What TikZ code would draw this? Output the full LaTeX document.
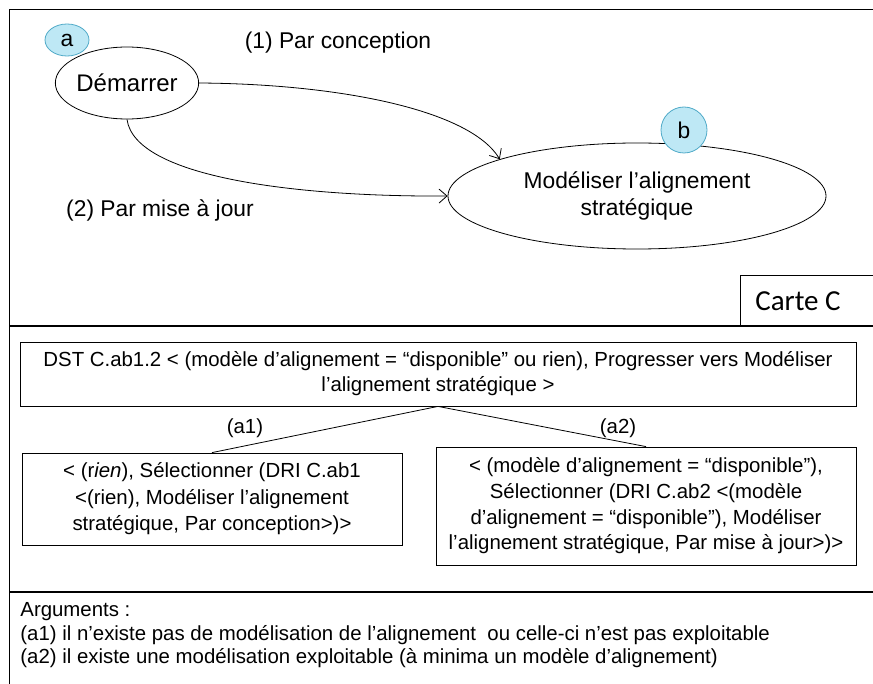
\documentclass[tikz,border=0pt]{standalone}
\usepackage{fontspec}
\setmainfont{Liberation Sans}
\newfontfamily\cartefont{Carlito}
\usetikzlibrary{arrows.meta,positioning,shapes.geometric}
\definecolor{bubblefill}{RGB}{190,232,245}
\definecolor{bubbledraw}{RGB}{80,170,200}

\begin{document}
\begin{tikzpicture}[%
    x=0.5pt, y=-0.5pt,
    intention/.style={ellipse,draw,inner sep=0pt,align=center,font=\fontsize{11.4}{13.6}\selectfont},
    bubble/.style={ellipse,draw=bubbledraw,fill=bubblefill,inner sep=0pt,font=\fontsize{11.4}{13.6}\selectfont},
    strat/.style={font=\fontsize{11.4}{13.6}\selectfont},
    boxtxt/.style={draw,rectangle,align=center,inner sep=0pt,font=\fontsize{10.2}{13}\selectfont},
    lbl/.style={font=\fontsize{10.2}{12}\selectfont},
    fleche/.style={-{Straight Barb[length=4pt,width=7pt]}}
]
\useasboundingbox (0,0) rectangle (873,684);

% ---------------- Frame and dividers ----------------
\draw (9,684) -- (9,9) -- (873,9);
\draw[line width=0.9pt] (9,326) -- (873,326);
\draw[line width=0.9pt] (9,592) -- (873,592);

% ---------------- Map (carte) ----------------
\node[intention,minimum width=71pt,minimum height=36pt,font=\fontsize{12}{14}\selectfont] (dem) at (127,83) {Démarrer};
\node[intention,minimum width=189pt,minimum height=53pt] (mod) at (637,196) {Modéliser l’alignement\\stratégique};
\node[bubble,minimum width=22pt,minimum height=16pt] (ba) at (67,40) {a};
\node[bubble,circle,minimum size=23pt] (bb) at (684,130) {b};

\node[strat] (s1) at (338,43) {(1) Par conception};
\node[strat] (s2) at (160,210) {(2) Par mise à jour};

\draw[fleche] (dem.east) .. controls (340,84) and (470,110) .. (mod.165);
\draw[fleche] (dem.south) .. controls (135,178) and (300,197) .. (mod.west);

\draw (740,326) -- (740,275) -- (873,275);
\node[font=\cartefont\fontsize{14.5}{17}\selectfont] (carte) at (798,301) {Carte C};

% ---------------- Decision tree ----------------
\node[boxtxt,minimum width=418pt,minimum height=32pt,font=\fontsize{10.2}{12.5}\selectfont] (dst) at (438,374)
    {DST C.ab1.2 < (modèle d’alignement = “disponible” ou rien), Progresser vers Modéliser\\l’alignement stratégique >};
\node[boxtxt,minimum width=190pt,minimum height=46pt,font=\fontsize{10.2}{13.2}\selectfont] (ab1) at (212,499)
    {< (r\textit{ien}), Sélectionner (DRI C.ab1\\<(rien), Modéliser l’alignement\\stratégique, Par conception>)>};
\node[boxtxt,minimum width=210pt,minimum height=59pt,font=\fontsize{10.2}{12.8}\selectfont] (ab2) at (646,506)
    {< (modèle d’alignement = “disponible”),\\Sélectionner (DRI C.ab2 <(modèle\\d’alignement = “disponible”), Modéliser\\l’alignement stratégique, Par mise à jour>)>};

\draw (dst.south) -- (ab1.north);
\draw (dst.south) -- (ab2.north);
\node[lbl] (l1) at (245,428) {(a1)};
\node[lbl] (l2) at (618,428) {(a2)};

% ---------------- Arguments ----------------
\node[anchor=north west,align=left,inner sep=0pt,font=\fontsize{10.2}{11.8}\selectfont] (args) at (20,602)
    {Arguments :\\
     (a1) il n’existe pas de modélisation de l’alignement\ \ ou celle-ci n’est pas exploitable\\
     (a2) il existe une modélisation exploitable (à minima un modèle d’alignement)};

\end{tikzpicture}
\end{document}
